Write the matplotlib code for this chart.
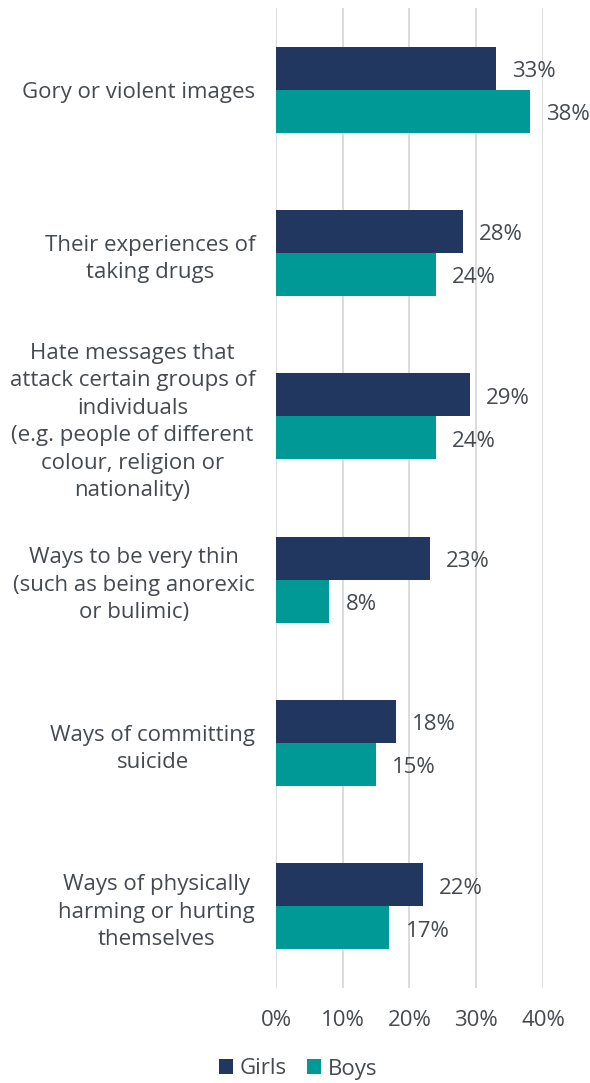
import numpy as np
import matplotlib.pyplot as plt

plt.rcParams['font.family'] = ['Open Sans', 'DejaVu Sans']

# Kategori konten dan persentase per kelompok
categories = [
    "Gory or violent images",
    "Their experiences of\ntaking drugs",
    "Hate messages that\nattack certain groups of\nindividuals\n(e.g. people of different\ncolour, religion or\nnationality)",
    "Ways to be very thin\n(such as being anorexic\nor bulimic)",
    "Ways of committing\nsuicide",
    "Ways of physically\nharming or hurting\nthemselves",
]
girls = [33, 28, 29, 23, 18, 22]
boys = [38, 24, 24, 8, 15, 17]
xticks = [0, 10, 20, 30, 40]

navy = '#21375f'
teal = '#009996'
txt = '#454a50'
fs = 16

fig = plt.figure(figsize=(5.9, 10.83), dpi=100)
ax = fig.add_axes([0.4678, 0.0877, 0.4525, 0.9049])

y = np.arange(len(categories))
h = 0.263
ax.barh(y - h / 2, girls, height=h, color=navy, label='Girls', zorder=3)
ax.barh(y + h / 2, boys, height=h, color=teal, label='Boys', zorder=3)

# label nilai di ujung batang (sedikit turun agar pas di tengah)
dy = 0.02
for yi, g, b in zip(y, girls, boys):
    ax.text(g + 2.4, yi - h / 2 + dy, f'{g}%', va='center', ha='left', fontsize=fs, color=txt)
    ax.text(b + 2.4, yi + h / 2 + dy, f'{b}%', va='center', ha='left', fontsize=fs, color=txt)

ax.set_ylim(len(categories) - 0.5, -0.5)
ax.set_xlim(0, 40)
ax.set_yticks(y)
ax.set_yticklabels(categories, fontsize=fs, color=txt, multialignment='center',
                   linespacing=1.40)
ax.set_xticks(xticks)
ax.set_xticklabels([f'{t}%' for t in xticks], fontsize=fs, color=txt)
ax.tick_params(axis='both', length=0)
ax.tick_params(axis='y', pad=15)
ax.tick_params(axis='x', pad=16)

ax.grid(axis='x', color='#d9d9d9', linewidth=1.3, zorder=0)
for s in ax.spines.values():
    s.set_visible(False)

fig.legend(loc='center', bbox_to_anchor=(0.505, 14 / 1083), ncol=2, frameon=False,
           fontsize=fs, handlelength=0.65, handleheight=0.65, handletextpad=0.3,
           columnspacing=0.9, labelcolor=txt)

fig.savefig('out.png', dpi=100)
